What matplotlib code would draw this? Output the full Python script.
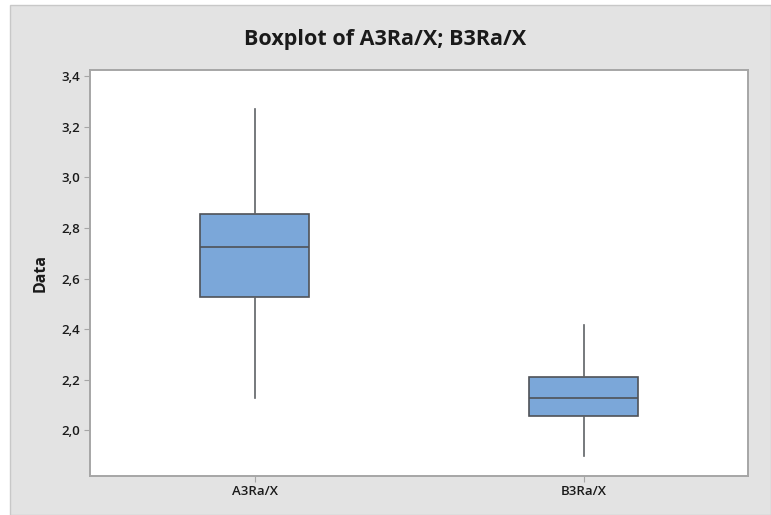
import matplotlib
matplotlib.use("Agg")
import matplotlib.pyplot as plt
from matplotlib.patches import Rectangle
from matplotlib.ticker import FuncFormatter, MultipleLocator

plt.rcParams['font.family'] = ['Open Sans', 'DejaVu Sans']

# Summary statistics for each variable
categories = ["A3Ra/X", "B3Ra/X"]
whisker_low = [2.130, 1.900]
q1 = [2.526, 2.057]
median = [2.724, 2.127]
q3 = [2.854, 2.211]
whisker_high = [3.270, 2.418]

stats = []
for i, name in enumerate(categories):
    stats.append(dict(label=name, whislo=whisker_low[i], q1=q1[i], med=median[i],
                      q3=q3[i], whishi=whisker_high[i], fliers=[]))

fig = plt.figure(figsize=(7.71, 5.15), dpi=100, facecolor="white")
# grey graph window background, kept behind the axes
bg = Rectangle((10 / 771, 0), 1 - 10 / 771, 1 - 5 / 515,
               transform=fig.transFigure, facecolor="#e3e3e3",
               edgecolor="#c8c8c8", linewidth=1.0, zorder=-10)
fig.add_artist(bg)

ax = fig.add_axes([90 / 771, 1 - 475.5 / 515, (748 - 90) / 771, (475.5 - 70) / 515])
ax.set_zorder(1)
ax.set_facecolor("white")

ax.bxp(stats, positions=[1, 2], widths=0.333, patch_artist=True, showcaps=False,
       boxprops=dict(facecolor="#7ba7d9", edgecolor="#4f5257", linewidth=1.2),
       medianprops=dict(color="#4f5257", linewidth=1.2),
       whiskerprops=dict(color="#5f6266", linewidth=1.2))

ax.set_xlim(0.5, 2.5)
ax.set_ylim(1.822, 3.424)
ax.yaxis.set_major_locator(MultipleLocator(0.2))
ax.yaxis.set_major_formatter(FuncFormatter(lambda v, p: f"{v:.1f}".replace(".", ",")))
ax.set_xticks([1, 2])
ax.set_xticklabels(categories)

for s in ax.spines.values():
    s.set_color("#a6a6a6")
    s.set_linewidth(1.4)
ax.tick_params(axis="both", colors="#a6a6a6", length=4, width=0.8, labelsize=9.5,
               labelcolor="#1a1a1a", pad=3)
for lbl in ax.get_xticklabels() + ax.get_yticklabels():
    lbl.set_fontweight("semibold")

ax.set_ylabel("Data", fontsize=11.5, fontweight="bold", color="#1a1a1a", labelpad=9)
fig.text(0.5, 1 - 40 / 515, "Boxplot of A3Ra/X; B3Ra/X", ha="center", va="center",
         fontsize=15.5, fontweight="bold", color="#1a1a1a")

fig.savefig("out.png", dpi=100, facecolor=fig.get_facecolor())
